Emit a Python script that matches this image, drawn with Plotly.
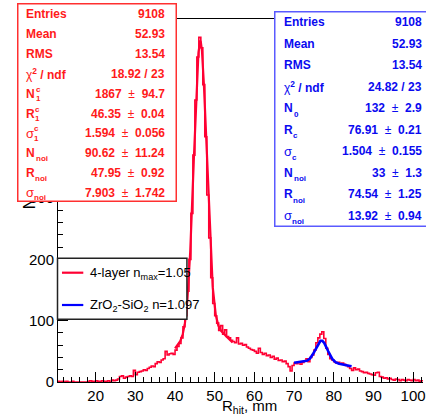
import numpy as np
import plotly.graph_objects as go

# ---------------- data ----------------
BIN_LO = 10.0      # mm, lower edge of first bin
BIN_W = 0.5        # mm, bin width
counts = [
    0, 1, 0, 1, 0, 1, 0, 0, 1, 0,
    0, 0, 0, 0, 0, 0, 1, 2, 1, 1,
    2, 1, 1, 2, 1, 1, 2, 0, 3, 2,
    3, 5, 9, 10, 6, 8, 9, 10, 9, 19,
    12, 16, 17, 18, 20, 19, 22, 24, 26, 25,
    30, 33, 32, 36, 38, 50, 44, 46, 47, 45,
    52, 58, 63, 72, 90, 108, 148, 200, 275, 370,
    460, 530, 562, 545, 485, 400, 305, 235, 170, 128,
    108, 96, 84, 92, 78, 85, 74, 72, 68, 66,
    64, 72, 62, 63, 60, 61, 57, 55, 53, 52,
    50, 47, 55, 48, 45, 47, 43, 44, 40, 42,
    37, 39, 35, 36, 33, 34, 30, 25, 18, 27,
    31, 30, 33, 29, 32, 34, 38, 33, 40, 44,
    52, 64, 72, 78, 82, 71, 55, 45, 38, 36,
    33, 31, 32, 30, 31, 29, 27, 25, 22, 19,
    23, 20, 21, 18, 17, 15, 16, 14, 13, 12,
    11, 15, 16, 9, 8, 6, 7, 5, 6, 4,
    3, 5, 4, 2, 4, 3, 2, 4, 3, 2,
    4, 2, 3, 1, 2,
]

# fit parameters: N*gausn(R, sigma) + Nnoi*gaus(Rnoi, sigma_noi)
red_fit = dict(N=1867, R=46.35, s=1.594, Nn=90.62, Rn=47.95, sn=7.903)
red_range = [40.0, 54.5]
blue_fit = dict(N=132, R=76.91, s=1.504, Nn=33, Rn=74.54, sn=13.92)
blue_range = [70.0, 84.5]

red_labels = ["Entries", "Mean", "RMS", "chi2", "N|c|1", "R|c|1", "σ|c|1", "N||noi", "R||noi", "σ||noi"]
red_values = ["9108", "52.93", "13.54", "18.92 / 23", "1867 ± 94.7", "46.35 ± 0.04",
              "1.594 ± 0.056", "90.62 ± 11.24", "47.95 ± 0.92", "7.903 ± 1.742"]
blue_labels = ["Entries", "Mean", "RMS", "chi2", "N||0", "R||c", "σ||c", "N||noi", "R||noi", "σ||noi"]
blue_values = ["9108", "52.93", "13.54", "24.82 / 23", "132 ± 2.9", "76.91 ± 0.21",
               "1.504 ± 0.155", "33 ± 1.3", "74.54 ± 1.25", "13.92 ± 0.94"]

legend_red = "4-layer n<sub>max</sub>=1.05"
legend_blue = "ZrO<sub>2</sub>-SiO<sub>2</sub> n=1.097"

# ---------------- helpers ----------------
W, H = 426, 415
ML, MR, MT, MB = 58, 0, 19, 33
PW, PH = W - ML - MR, H - MT - MB
FONT = "Liberation Sans, Arial, Helvetica, sans-serif"
RED_LINE = "#ff0033"
RED_TXT = "#ff1a1a"
BLUE_TXT = "#0a0af0"


def fx(px):
    return (px - ML) / PW


def fy(py):
    return (H - MB - py) / PH


def fit_curve(p, lo, hi):
    x = np.linspace(lo, hi, 400)
    y = (p["N"] / (np.sqrt(2 * np.pi) * p["s"]) * np.exp(-0.5 * ((x - p["R"]) / p["s"]) ** 2)
         + p["Nn"] * np.exp(-0.5 * ((x - p["Rn"]) / p["sn"]) ** 2))
    return x, y


edges = BIN_LO + BIN_W * np.arange(len(counts) + 1)
hist_y = list(counts) + [counts[-1]]

fig = go.Figure()
fig.add_trace(go.Scatter(x=edges, y=hist_y, mode="lines", line=dict(color=RED_LINE, width=1.6, shape="hv"),
                         showlegend=False, hoverinfo="skip"))
xr, yr = fit_curve(red_fit, *red_range)
fig.add_trace(go.Scatter(x=xr, y=yr, mode="lines", line=dict(color=RED_LINE, width=2.2), showlegend=False))
xb, yb = fit_curve(blue_fit, *blue_range)
fig.add_trace(go.Scatter(x=xb, y=yb, mode="lines", line=dict(color="#0000ff", width=2.6), showlegend=False))

ann = []


def text(s, px, py, size, color, anchor="left", bold=True, yanchor="middle"):
    if bold:
        s = "<b>" + s + "</b>"
    ann.append(dict(text=s, x=fx(px), y=fy(py), xref="paper", yref="paper", xanchor=anchor,
                    yanchor=yanchor, showarrow=False, font=dict(family=FONT, size=size, color=color)))


def box(x0, y0, x1, y1, color, bw):
    ann.append(dict(text=" ", x=fx(x0), y=fy(y0), xref="paper", yref="paper", xanchor="left",
                    yanchor="top", showarrow=False, width=x1 - x0 - 2 * bw, height=y1 - y0 - 2 * bw,
                    bgcolor="white", bordercolor=color, borderwidth=bw, borderpad=0))


# y-axis title (mostly covered by the stat box)
ann.append(dict(text="Number of events", textangle=-90, x=fx(29), y=fy(211), xref="paper", yref="paper",
                xanchor="center", yanchor="bottom", showarrow=False,
                font=dict(family=FONT, size=16, color="black")))


def value_str(v):
    if "±" in v:
        a, b = v.split("±")
        return "<b>" + a.strip() + "</b>\u00a0 ±\u00a0 <b>" + b.strip() + "</b>"
    return "<b>" + v + "</b>"


def stats(labels, values, x1, rows, color, sub_dy, xl):
    for lab, val, ry in zip(labels, values, rows):
        if lab == "chi2":
            text("χ<b><sup>2</sup> / ndf</b>", xl, ry, 12, color, bold=False)
        elif "|" in lab:
            base, sup, sub = lab.split("|")
            greek = base == "σ"
            text(base, xl, ry, 12 if not greek else 13, color, bold=not greek)
            off = {"N": 9.5, "R": 8.5, "σ": 7.5}[base]
            if sup:
                text(sup, xl + off, ry - 4.5, 8, color)
            text(sub, xl + off, ry + sub_dy, 8, color)
        else:
            text(lab, xl, ry, 12, color)
        text(value_str(val), x1, ry, 12, color, anchor="right", bold=False)


# red statistics box
box(16.7, 3.5, 176.2, 202.8, "#ff3030", 1.5)
red_rows = [14.3 + 19.85 * i for i in range(10)]
stats(red_labels, red_values, 167.5, red_rows, RED_TXT, 5, 24)

# blue statistics box
box(276, 11.5, 460, 227.8, "#5a5aff", 1.5)
blue_rows = [22.0 + 21.55 * i for i in range(10)]
stats(blue_labels, blue_values, 427, blue_rows, BLUE_TXT, 6, 284)

# legend
shapes = [
    dict(type="rect", xref="paper", yref="paper", x0=fx(57.5), x1=fx(188), y0=fy(258.3), y1=fy(319.3),
         fillcolor="white", line=dict(color="#222222", width=1.5), layer="above"),
    dict(type="line", xref="paper", yref="paper", x0=fx(62), x1=fx(83.5), y0=fy(272.7), y1=fy(272.7),
         line=dict(color=RED_LINE, width=2.2), layer="above"),
    dict(type="line", xref="paper", yref="paper", x0=fx(62), x1=fx(83.5), y0=fy(305), y1=fy(305),
         line=dict(color="#0000ff", width=2.2), layer="above"),
]
text(legend_red, 88, 273, 13, "black", bold=False)
text(legend_blue, 88, 305.5, 13, "black", bold=False)

# x-axis title
text("R<sub>hit</sub>, mm", 221, 406, 15, "black", bold=False)

axis_common = dict(showline=True, linecolor="black", linewidth=1, ticks="inside", ticklen=10,
                   tickcolor="black", tickwidth=1, showgrid=False, zeroline=False,
                   tickfont=dict(family=FONT, size=15, color="black"))
fig.update_layout(
    width=W, height=H, margin=dict(l=ML, r=MR, t=MT, b=MB),
    paper_bgcolor="white", plot_bgcolor="white",
    xaxis=dict(range=[10.5, 102.5], tick0=0, dtick=10, mirror=True, ticklabeloverflow="allow",
               minor=dict(dtick=2, tick0=0, ticks="inside", ticklen=5, tickcolor="black", showgrid=False),
               **axis_common),
    yaxis=dict(range=[0, 592], tick0=0, dtick=100,
               minor=dict(dtick=20, tick0=0, ticks="inside", ticklen=5, tickcolor="black", showgrid=False),
               **axis_common),
    annotations=ann, shapes=shapes, showlegend=False,
)
fig.write_html("out.html")
